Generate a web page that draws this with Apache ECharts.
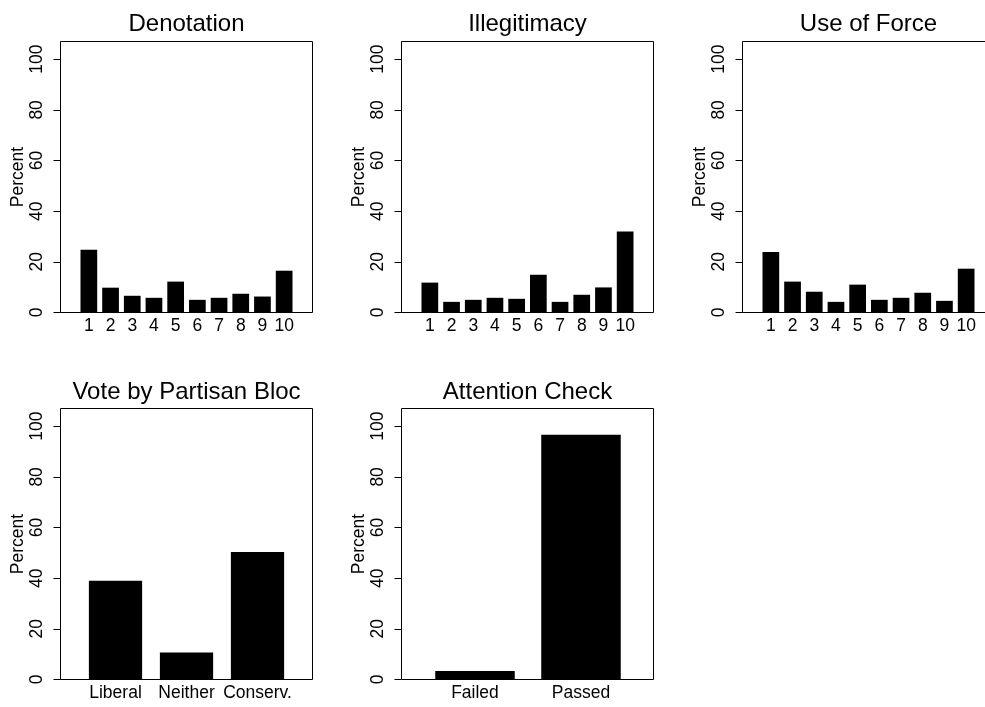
<!DOCTYPE html>
<html>
<head>
<meta charset="utf-8">
<script src="https://cdn.jsdelivr.net/npm/echarts@6/dist/echarts.min.js"></script>
<style>
html,body{margin:0;padding:0;background:#fff;}
#c{width:985px;height:707px;}
</style>
</head>
<body>
<div id="c"></div>
<script>
// ---- data ----
const scaleCats = ['1', '2', '3', '4', '5', '6', '7', '8', '9', '10'];
const denotation = [24.8, 9.8, 6.6, 5.8, 12.2, 5.0, 5.8, 7.4, 6.3, 16.5];
const illegitimacy = [11.8, 4.2, 5.0, 5.8, 5.4, 14.9, 4.2, 7.0, 9.9, 32.0];
const useOfForce = [23.9, 12.2, 8.2, 4.2, 11.0, 5.0, 5.8, 7.8, 4.6, 17.3];
const blocCats = ['Liberal', 'Neither', 'Conserv.'];
const voteByBloc = [39.0, 10.7, 50.3];
const attnCats = ['Failed', 'Passed'];
const attentionCheck = [3.4, 96.6];
const yTicks = [0, 20, 40, 60, 80, 100];
const yMax = 107;
const titles = ['Denotation', 'Illegitimacy', 'Use of Force', 'Vote by Partisan Bloc', 'Attention Check'];
const yName = 'Percent';

// ---- layout (positions / sizes only) ----
const FONT = 'Liberation Sans, Arial, Helvetica, sans-serif';
const panels = [
  { cats: scaleCats, vals: denotation,    box: [60.5, 41.5],  inner: [78, 217],  bw: '77%', titleTop: 12.8 },
  { cats: scaleCats, vals: illegitimacy,  box: [401.5, 41.5], inner: [419, 217], bw: '77%', titleTop: 12.8 },
  { cats: scaleCats, vals: useOfForce,    box: [742.5, 41.5], inner: [760, 217], bw: '77%', titleTop: 12.8 },
  { cats: blocCats,  vals: voteByBloc,    box: [60.5, 408.5], inner: [80, 213],  bw: '75%', titleTop: 380 },
  { cats: attnCats,  vals: attentionCheck,box: [401.5, 408.5],inner: [422, 212], bw: '75%', titleTop: 380 }
];
const BOX_W = 252, BOX_H = 271;

const option = {
  animation: false,
  backgroundColor: '#fff',
  textStyle: { fontFamily: FONT },
  title: [], grid: [], xAxis: [], yAxis: [], series: []
};

panels.forEach((p, i) => {
  const outer = 2 * i, inner = 2 * i + 1;
  option.title.push({
    text: titles[i],
    left: p.box[0] + BOX_W / 2,
    top: p.titleTop,
    textAlign: 'center',
    padding: 0,
    textStyle: { fontFamily: FONT, fontSize: 24, fontWeight: 'normal', color: '#000' }
  });
  option.grid.push({
    left: p.box[0], top: p.box[1], width: BOX_W, height: BOX_H,
    containLabel: false, outerBoundsMode: 'none',
    show: true, borderColor: '#000', borderWidth: 1, backgroundColor: 'transparent'
  });
  option.grid.push({
    left: p.inner[0], top: p.box[1], width: p.inner[1], height: BOX_H,
    containLabel: false, outerBoundsMode: 'none',
    show: false
  });
  option.xAxis.push({ type: 'value', gridIndex: outer, show: false, min: 0, max: 1 });
  option.xAxis.push({
    type: 'category', gridIndex: inner, data: p.cats,
    axisLine: { show: false }, axisTick: { show: false }, splitLine: { show: false },
    axisLabel: { interval: 0, margin: 5, fontFamily: FONT, fontSize: 17.5, color: '#000' }
  });
  option.yAxis.push({
    type: 'value', gridIndex: outer, min: 0, max: yMax,
    axisLine: { show: false },
    splitLine: { show: false },
    axisTick: { show: true, inside: false, length: 7, customValues: yTicks, lineStyle: { color: '#000', width: 1 } },
    axisLabel: { customValues: yTicks, rotate: 90, margin: 14.5, fontFamily: FONT, fontSize: 17.5, color: '#000' },
    name: yName, nameLocation: 'middle', nameGap: 33.2,
    nameTextStyle: { fontFamily: FONT, fontSize: 17.5, color: '#000' }
  });
  option.yAxis.push({ type: 'value', gridIndex: inner, min: 0, max: yMax, show: false });
  option.series.push({
    type: 'bar', xAxisIndex: inner, yAxisIndex: inner,
    data: p.vals, barWidth: p.bw, silent: true,
    itemStyle: { color: '#000' }
  });
});

const chart = echarts.init(document.getElementById('c'), null, { renderer: 'canvas' });
chart.setOption(option);
</script>
</body>
</html>
